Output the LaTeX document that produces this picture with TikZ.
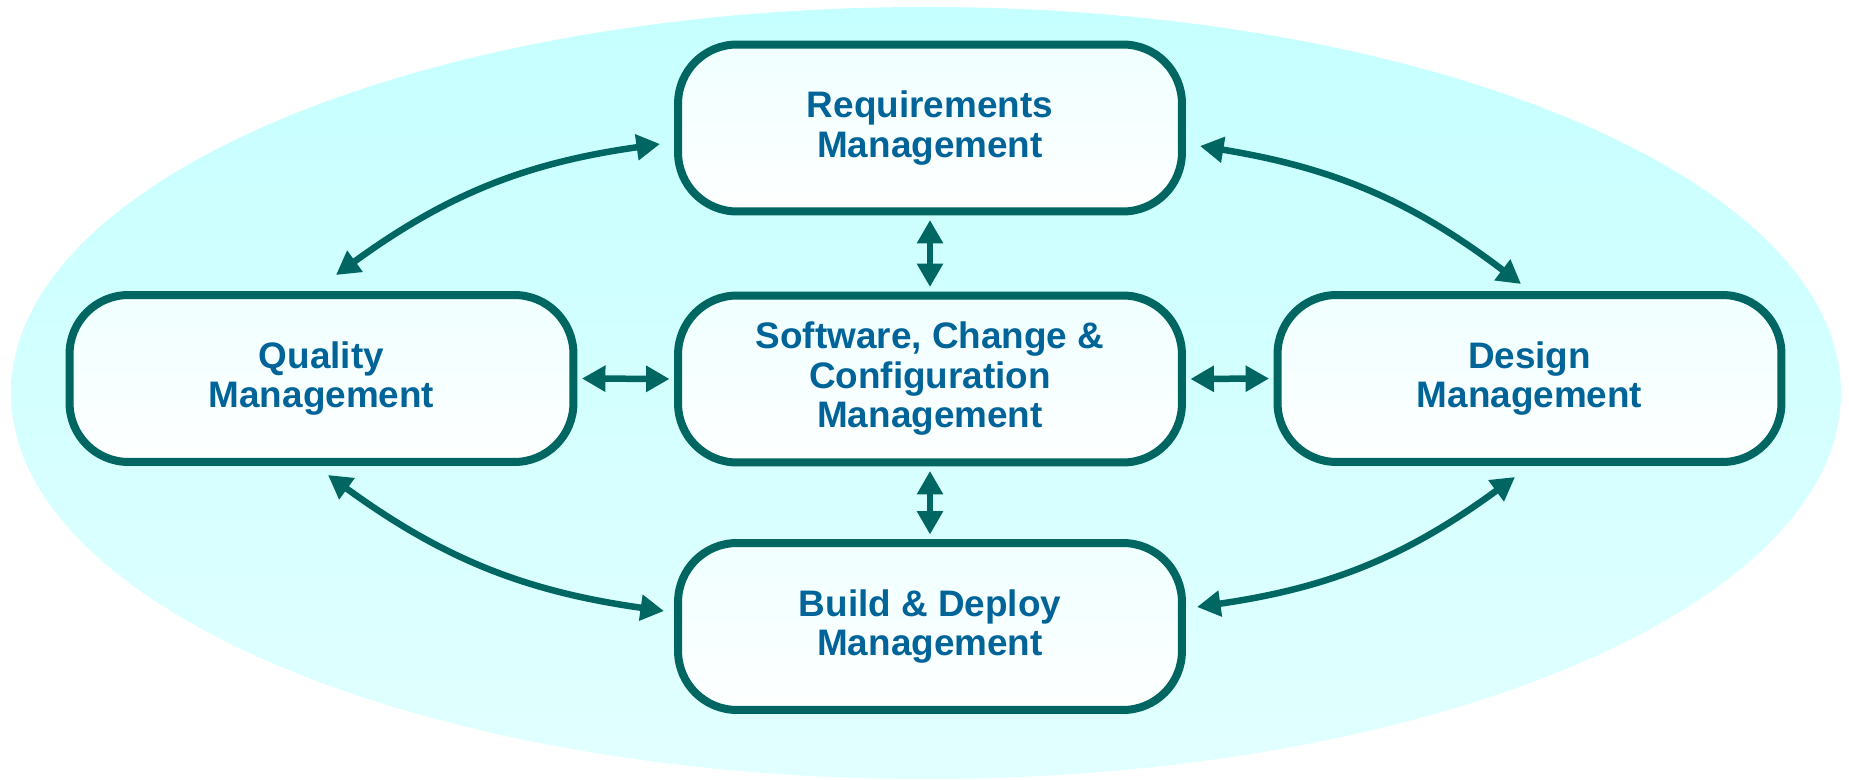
\documentclass[tikz,border=0pt]{standalone}
\usepackage{fontspec}
\setmainfont{Liberation Sans}
\usetikzlibrary{arrows.meta}
\definecolor{tealline}{RGB}{0,102,98}
\definecolor{txtblue}{RGB}{0,100,152}
\definecolor{elltop}{RGB}{198,255,255}
\definecolor{ellbot}{RGB}{226,255,255}
\definecolor{boxtop}{RGB}{240,255,255}
\definecolor{boxbot}{RGB}{254,255,255}
\begin{document}
\begin{tikzpicture}[x=0.02cm,y=-0.02cm,
  box/.style={draw=tealline, line width=0.16cm, rounded corners=1.18cm,
    minimum width=10.08cm, minimum height=3.34cm, top color=boxtop, bottom color=boxbot,
    align=center, text=txtblue, inner sep=0pt,
    font=\fontsize{21}{22.5}\selectfont\bfseries},
  link/.style={draw=tealline, line width=0.13cm,
    {Triangle[length=0.47cm,width=0.5cm]}-{Triangle[length=0.47cm,width=0.5cm]}},
  gap/.style={shorten <=0.09cm, shorten >=0.09cm}]
\fill[white] (0,0) rectangle (1849,780);
\useasboundingbox (0,0) rectangle (1849,780);
\shade[top color=elltop, bottom color=ellbot] (926,393) ellipse [x radius=915, y radius=386];

\node[box] (req) at (930,128) {Requirements\\Management};
\node[box] (qual) at (321.5,378.5) {Quality\\Management};
\node[box] (scm) at (930,379) {Software, Change \&\\Configuration\\Management};
\node[box] (des) at (1529.5,378.5) {Design\\Management};
\node[box] (bld) at (930,626.5) {Build \& Deploy\\Management};

\coordinate (rq1) at (660,144);
\coordinate (rq2) at (336,275);
\coordinate (rd1) at (1200,146);
\coordinate (rd2) at (1521,284);
\coordinate (qb1) at (328,475);
\coordinate (qb2) at (664,611);
\coordinate (db1) at (1515,477);
\coordinate (db2) at (1197,607);

\draw[link,gap] (req.south) -- (scm.north);
\draw[link,gap] (scm.south) -- (bld.north);
\draw[link,gap] (qual.east) -- (scm.west);
\draw[link,gap] (scm.east) -- (des.west);

\draw[link] (rq1) to[bend right=14] (rq2);
\draw[link] (rd1) to[bend left=14] (rd2);
\draw[link] (qb1) to[bend right=14] (qb2);
\draw[link] (db1) to[bend left=14] (db2);
\end{tikzpicture}
\end{document}
